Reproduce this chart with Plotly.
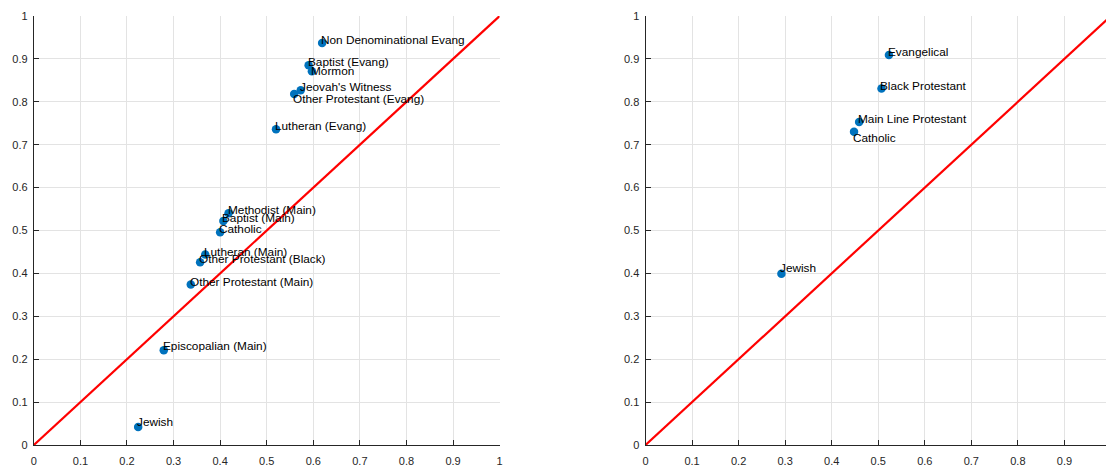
import plotly.graph_objects as go

# Denominations (left panel)
denominations = [
    "Non Denominational Evang", "Baptist (Evang)", "Mormon", "Jeovah's Witness",
    "Other Protestant (Evang)", "Lutheran (Evang)", "Methodist (Main)", "Baptist (Main)",
    "Catholic", "Lutheran (Main)", "Other Protestant (Black)", "Other Protestant (Main)",
    "Episcopalian (Main)", "Jewish",
]
denom_x = [0.619, 0.590, 0.597, 0.573, 0.559, 0.520, 0.418, 0.407,
           0.400, 0.368, 0.357, 0.337, 0.279, 0.224]
denom_y = [0.937, 0.885, 0.871, 0.827, 0.818, 0.736, 0.540, 0.522,
           0.496, 0.444, 0.426, 0.374, 0.221, 0.042]

# Religious traditions (right panel)
traditions = ["Evangelical", "Black Protestant", "Main Line Protestant", "Catholic", "Jewish"]
trad_x = [0.523, 0.507, 0.459, 0.448, 0.292]
trad_y = [0.909, 0.831, 0.753, 0.730, 0.399]

# Reference diagonal y = x
diag = [0, 1]

tick_vals = [0, 0.1, 0.2, 0.3, 0.4, 0.5, 0.6, 0.7, 0.8, 0.9, 1]
tick_text = ["0", "0.1", "0.2", "0.3", "0.4", "0.5", "0.6", "0.7", "0.8", "0.9", "1"]

BLUE = "#0072BD"
AX = "#262626"
FONT = "Liberation Sans, Arial, sans-serif"

# vertical nudges (px) for labels that would otherwise collide
DEFAULT_SHIFT = 3
left_shift = {"Mormon": 0, "Other Protestant (Evang)": -5, "Episcopalian (Main)": 4, "Jewish": 5}
right_shift = {"Catholic": -6, "Jewish": 6}

fig = go.Figure()

for xa, ya, xs, ys in [("x", "y", denom_x, denom_y), ("x2", "y2", trad_x, trad_y)]:
    fig.add_trace(go.Scatter(x=diag, y=diag, mode="lines", xaxis=xa, yaxis=ya,
                             line=dict(color="#FF0000", width=2.2), hoverinfo="skip"))
    fig.add_trace(go.Scatter(x=xs, y=ys, mode="markers", xaxis=xa, yaxis=ya,
                             marker=dict(color=BLUE, size=8.5, line=dict(width=0))))

annotations = []
for names, xs, ys, xa, ya, shifts in [
    (denominations, denom_x, denom_y, "x", "y", left_shift),
    (traditions, trad_x, trad_y, "x2", "y2", right_shift),
]:
    for n, xv, yv in zip(names, xs, ys):
        annotations.append(dict(
            x=xv, y=yv, xref=xa, yref=ya, text=n, showarrow=False,
            xanchor="left", yanchor="middle", xshift=-3,
            yshift=shifts.get(n, DEFAULT_SHIFT),
            font=dict(family=FONT, size=11.8, color="#000000"),
        ))

axis_common = dict(
    showline=True, linecolor=AX, linewidth=1, mirror=False,
    showgrid=True, gridcolor="#E3E3E3", gridwidth=1,
    zeroline=False, ticks="inside", ticklen=5, tickcolor=AX, tickwidth=1,
    tickvals=tick_vals, ticktext=tick_text,
    tickfont=dict(family=FONT, size=11, color=AX),
    fixedrange=True,
)
x_extra = dict(ticklabelstandoff=6)
y_extra = dict(ticklabelstandoff=3)

W, H = 1109, 467
fig.update_layout(
    width=W, height=H,
    margin=dict(l=0, r=0, t=15.5, b=19.7),
    paper_bgcolor="white", plot_bgcolor="white",
    showlegend=False,
    annotations=annotations,
    xaxis=dict(axis_common, **x_extra, domain=[31 / W, 499.3 / W], range=[0, 1], anchor="y"),
    yaxis=dict(axis_common, **y_extra, range=[0, 1], anchor="x"),
    xaxis2=dict(axis_common, **x_extra, domain=[646 / W, 1.0], range=[0, (W - 646) / 468], anchor="y2"),
    yaxis2=dict(axis_common, **y_extra, range=[0, 1], anchor="x2"),
)

fig.write_html("out.html")
